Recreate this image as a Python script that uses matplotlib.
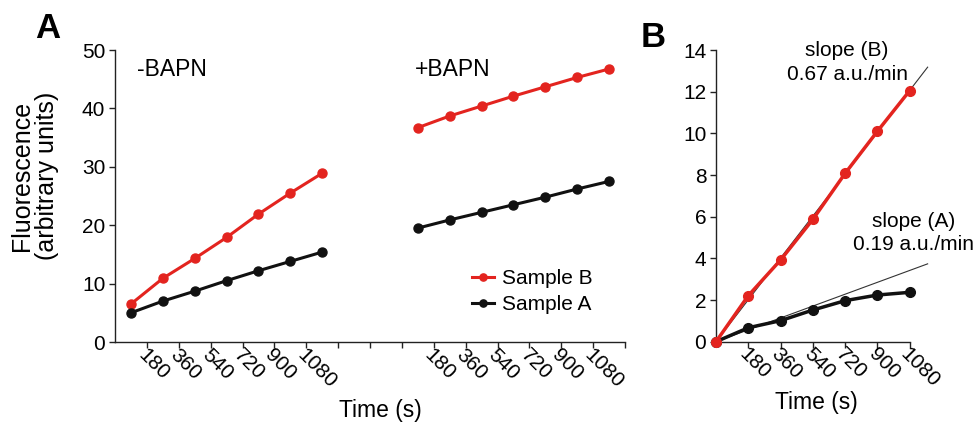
import numpy as np
import matplotlib.pyplot as plt
import matplotlib.transforms as mtransforms

plt.rcParams['font.family'] = ['Liberation Sans', 'DejaVu Sans']
plt.rcParams['font.size'] = 15

# Panel A data: fluorescence vs time, without and with BAPN
time_s = [0, 180, 360, 540, 720, 900, 1080]
minus_bapn_B = [6.5, 10.9, 14.3, 17.9, 21.9, 25.5, 28.9]
minus_bapn_A = [5.0, 7.0, 8.7, 10.5, 12.2, 13.8, 15.4]
plus_bapn_B = [36.7, 38.7, 40.4, 42.1, 43.7, 45.3, 46.75]
plus_bapn_A = [19.5, 20.9, 22.2, 23.5, 24.8, 26.2, 27.5]
tick_labels = ['180', '360', '540', '720', '900', '1080']

# Panel B data: background-subtracted signal and fitted slopes
b_sample_B = [0, 2.21, 3.92, 5.87, 8.08, 10.1, 12.05]
b_sample_A = [0, 0.67, 1.01, 1.52, 1.97, 2.24, 2.37]
slope_B = 0.67   # a.u./min
slope_A = 0.19   # a.u./min

RED = '#e3241f'
BLACK = '#111111'


def style_axes(ax):
    for s in ['top', 'right']:
        ax.spines[s].set_visible(False)
    for s in ['left', 'bottom']:
        ax.spines[s].set_linewidth(1.0)
        ax.spines[s].set_color('#222222')
    ax.tick_params(direction='out', length=4, width=1.0, color='#222222', pad=3)


def slant_labels(ax, fig):
    shift = mtransforms.ScaledTranslation(-0.06, 0.0, fig.dpi_scale_trans)
    for lab in ax.get_xticklabels():
        lab.set_rotation(-45)
        lab.set_rotation_mode('anchor')
        lab.set_ha('left')
        lab.set_va('center')
        lab.set_transform(lab.get_transform() + shift)


fig = plt.figure(figsize=(9.75, 4.25), dpi=100)
axA = fig.add_axes([115/975, 83/425, 510/975, 292/425])
axB = fig.add_axes([716/975, 83.3/425, 193.7/975, 291.7/425])

# ---- panel A
t = np.array(time_s, dtype=float)
step = 180.0
xm = t + step/2
xp = t + step/2 + 9*step

axA.plot(xm, minus_bapn_B, '-o', color=RED, lw=2.2, ms=6.5, label='Sample B', clip_on=False)
axA.plot(xm, minus_bapn_A, '-o', color=BLACK, lw=2.2, ms=6.5, label='Sample A', clip_on=False)
axA.plot(xp, plus_bapn_B, '-o', color=RED, lw=2.2, ms=6.5, clip_on=False)
axA.plot(xp, plus_bapn_A, '-o', color=BLACK, lw=2.2, ms=6.5, clip_on=False)

axA.set_xlim(0, 16*step)
axA.set_ylim(0, 50)
axA.set_yticks(np.arange(0, 51, 10))
ticks = np.arange(1, 17)*step
labels = [''] * 16
for i, lab in enumerate(tick_labels):
    labels[i] = lab
    labels[i + 9] = lab
axA.set_xticks(ticks)
axA.set_xticklabels(labels)
style_axes(axA)
slant_labels(axA, fig)

axA.set_ylabel('Fluorescence\n(arbitrary units)', fontsize=18, linespacing=1.05)
axA.yaxis.set_label_coords(-0.11, 0.57)
axA.set_xlabel('Time (s)', fontsize=16.5)
axA.xaxis.set_label_coords(0.52, -0.195)

axA.text(0.68*step, 48.6, '-BAPN', va='top', ha='left', fontsize=16.5)
axA.text(9.41*step, 48.6, '+BAPN', va='top', ha='left', fontsize=16.5)

axA.legend(loc='upper left', bbox_to_anchor=(0.70, 0.25), frameon=False,
           borderpad=0, borderaxespad=0, handlelength=1.05, handletextpad=0.4,
           labelspacing=0.35, markerscale=0.8)

fig.text(35/975, 1 - 12/425, 'A', fontsize=25, fontweight='bold', va='top', ha='left')

# ---- panel B
fit_end = 1180.0
axB.plot([0, fit_end], [0, slope_B/60*fit_end], color='#333333', lw=0.8, clip_on=False, zorder=1)
axB.plot([0, fit_end], [0, slope_A/60*fit_end], color='#333333', lw=0.8, clip_on=False, zorder=1)
axB.plot(t, b_sample_A, '-o', color=BLACK, lw=2.5, ms=7, clip_on=False, zorder=3)
axB.plot(t, b_sample_B, '-o', color=RED, lw=2.5, ms=7, clip_on=False, zorder=4)

axB.set_xlim(0, 1080)
axB.set_ylim(0, 14)
axB.set_yticks(np.arange(0, 15, 2))
axB.set_xticks(t[1:])
axB.set_xticklabels(tick_labels)
style_axes(axB)
slant_labels(axB, fig)
axB.set_xlabel('Time (s)', fontsize=16.5)
axB.xaxis.set_label_coords(0.52, -0.17)

axB.text(0.677, 1.03, 'slope (B)\n0.67 a.u./min', transform=axB.transAxes,
         ha='center', va='top', linespacing=1.3)
axB.text(1.018, 0.445, 'slope (A)\n0.19 a.u./min', transform=axB.transAxes,
         ha='center', va='top', linespacing=1.3)

fig.text(641/975, 1 - 21/425, 'B', fontsize=25, fontweight='bold', va='top', ha='left')

fig.savefig('out.png', dpi=100)
